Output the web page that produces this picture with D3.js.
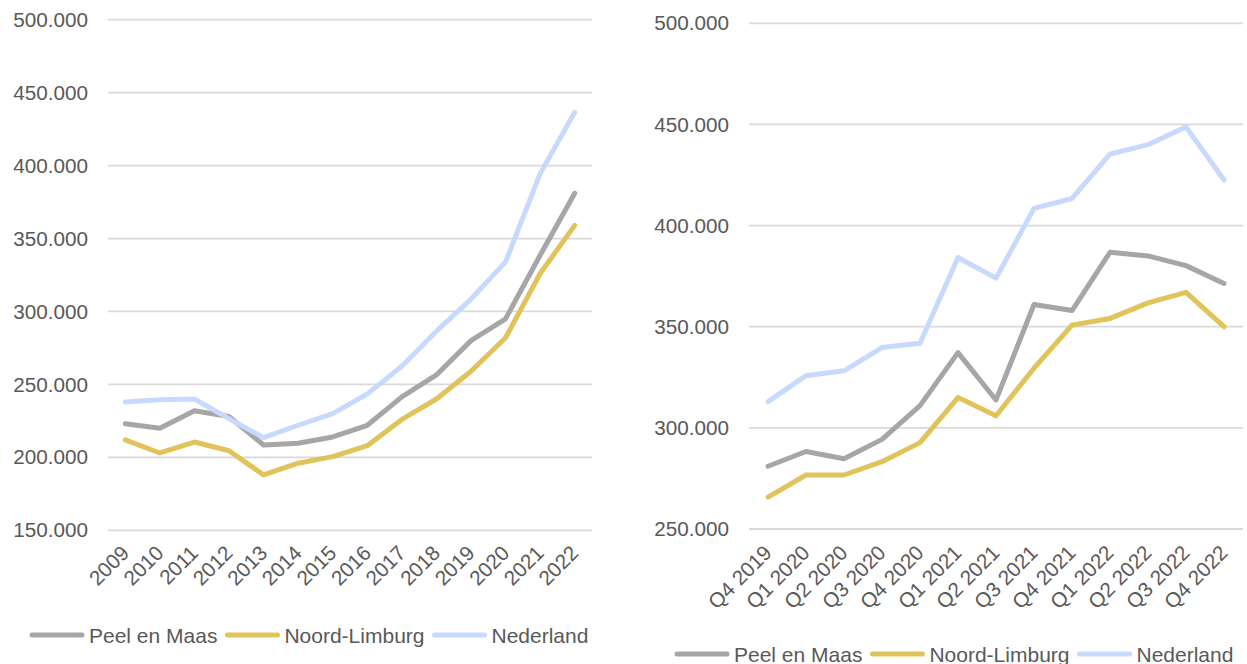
<!DOCTYPE html>
<html>
<head>
<meta charset="utf-8">
<script src="https://cdn.jsdelivr.net/npm/d3@7"></script>
<style>
  html, body { margin: 0; padding: 0; background: #ffffff; }
  svg { display: block; }
  text { font-family: "Liberation Sans", Arial, sans-serif; fill: #595959; }
</style>
</head>
<body>
<svg id="chart" width="1247" height="664"></svg>
<script>
// Series names and colours
const seriesNames = ["Peel en Maas", "Noord-Limburg", "Nederland"];
const seriesColors = ["#a6a6a6", "#e0c35b", "#c7d9fd"];

// Yearly average house price
const years = ["2009", "2010", "2011", "2012", "2013", "2014", "2015", "2016",
               "2017", "2018", "2019", "2020", "2021", "2022"];
const yearlyPeelEnMaas   = [223000, 220000, 232000, 228000, 208500, 209700, 214000, 222000,
                            241500, 256500, 280000, 295000, 338500, 381000];
const yearlyNoordLimburg = [212000, 203000, 210500, 204500, 188000, 196000, 200500, 208000,
                            226000, 240000, 259000, 282000, 326000, 359000];
const yearlyNederland    = [238000, 239500, 240000, 226500, 213500, 222000, 230000, 243500,
                            262500, 286500, 308500, 334000, 394500, 436500];
const yearlyTicks = [150000, 200000, 250000, 300000, 350000, 400000, 450000, 500000];

// Quarterly average house price
const quarters = ["Q4 2019", "Q1 2020", "Q2 2020", "Q3 2020", "Q4 2020", "Q1 2021", "Q2 2021",
                  "Q3 2021", "Q4 2021", "Q1 2022", "Q2 2022", "Q3 2022", "Q4 2022"];
const quarterlyPeelEnMaas   = [281000, 288300, 284700, 294300, 311000, 337200, 313800,
                               361000, 358000, 386800, 385000, 380200, 371400];
const quarterlyNoordLimburg = [265800, 276700, 276700, 283300, 292700, 315000, 306000,
                               329500, 350800, 354100, 361800, 367000, 350000];
const quarterlyNederland    = [313000, 325800, 328200, 339700, 341800, 384200, 374000,
                               408500, 413400, 435300, 440000, 448800, 422500];
const quarterlyTicks = [250000, 300000, 350000, 400000, 450000, 500000];

const fmt = d => d3.format(",")(d).replace(/,/g, ".");

const svg = d3.select("#chart");

function drawPanel(cfg) {
  const g = svg.append("g");
  const x = d3.scaleBand().domain(cfg.categories).range([cfg.left, cfg.right]);
  const y = d3.scaleLinear().domain(cfg.domain).range([cfg.bottom, cfg.top]);

  // horizontal gridlines
  g.append("g").selectAll("line").data(cfg.ticks).join("line")
    .attr("x1", cfg.left).attr("x2", cfg.right)
    .attr("y1", d => y(d)).attr("y2", d => y(d))
    .attr("stroke", "#d9d9d9").attr("stroke-width", 1.8);

  // y axis labels
  const yAxis = d3.axisLeft(y).tickValues(cfg.ticks).tickFormat(fmt).tickSize(0).tickPadding(20);
  const ya = g.append("g").attr("transform", `translate(${cfg.left},0)`).call(yAxis);
  ya.select(".domain").remove();
  ya.selectAll("text").attr("font-size", 20.7).style("fill", "#595959")
    .attr("font-family", "Liberation Sans, Arial, sans-serif");

  // x axis labels, rotated
  const xAxis = d3.axisBottom(x).tickSize(0).tickPadding(0);
  const xa = g.append("g").attr("transform", `translate(0,${cfg.bottom})`).call(xAxis);
  xa.select(".domain").remove();
  xa.selectAll("text")
    .attr("font-size", 20.7).style("fill", "#595959")
    .attr("font-family", "Liberation Sans, Arial, sans-serif")
    .attr("text-anchor", "end")
    .attr("dy", null).attr("y", 0)
    .attr("transform", `translate(${cfg.labelDx},${cfg.labelDy}) rotate(-45)`);

  // series lines
  const line = d3.line()
    .x((d, i) => x(cfg.categories[i]) + x.bandwidth() / 2)
    .y(d => y(d));
  cfg.series.forEach((vals, k) => {
    g.append("path").datum(vals)
      .attr("d", line)
      .attr("fill", "none")
      .attr("stroke", seriesColors[k])
      .attr("stroke-width", 5)
      .attr("stroke-linejoin", "round")
      .attr("stroke-linecap", "round");
  });

  // legend
  const lg = g.append("g");
  let cx = cfg.legendX;
  seriesNames.forEach((name, k) => {
    lg.append("line")
      .attr("x1", cx + 2).attr("x2", cx + 52)
      .attr("y1", cfg.legendY).attr("y2", cfg.legendY)
      .attr("stroke", seriesColors[k]).attr("stroke-width", 5)
      .attr("stroke-linecap", "round");
    const t = lg.append("text")
      .attr("x", cx + 59).attr("y", cfg.legendY + 7.5)
      .attr("font-size", 21)
      .text(name);
    cx += 59 + t.node().getComputedTextLength() + 8;
  });
}

drawPanel({
  categories: years,
  series: [yearlyPeelEnMaas, yearlyNoordLimburg, yearlyNederland],
  domain: [150000, 500000], ticks: yearlyTicks,
  left: 108, right: 592, top: 19.7, bottom: 530.3,
  labelDx: 5, labelDy: 24,
  legendX: 30, legendY: 635
});

drawPanel({
  categories: quarters,
  series: [quarterlyPeelEnMaas, quarterlyNoordLimburg, quarterlyNederland],
  domain: [250000, 500000], ticks: quarterlyTicks,
  left: 749, right: 1243, top: 23.3, bottom: 529,
  labelDx: 5, labelDy: 25,
  legendX: 675, legendY: 654
});
</script>
</body>
</html>
